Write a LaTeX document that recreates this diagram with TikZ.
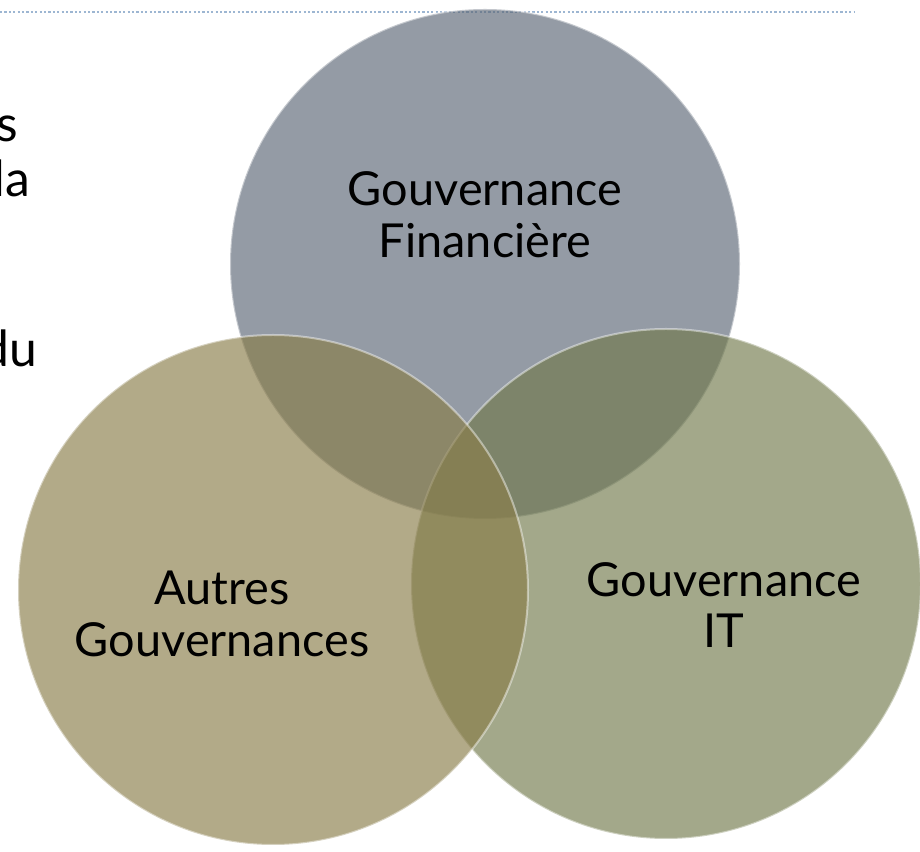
\documentclass[tikz,border=0pt]{standalone}
\usepackage{fontspec}
\setmainfont{Lato}
\definecolor{fincol}{HTML}{5A6574}
\definecolor{itcol}{HTML}{71794B}
\definecolor{othcol}{HTML}{897C48}
\definecolor{rulecol}{HTML}{9DB6D2}
\begin{document}
\begin{tikzpicture}[>=latex,
  venn/.style={circle,minimum size=510bp,inner sep=0pt,fill opacity=0.65,
    draw=white,draw opacity=0.45,line width=2bp},
  lbl/.style={align=center,inner sep=0pt,font=\fontsize{47}{52}\selectfont},
  frag/.style={anchor=base east,inner sep=0pt,font=\fontsize{50}{55}\selectfont},
]
%%
\clip (0bp,0bp) rectangle (920bp,852bp);
\coordinate (rl) at (0bp,840bp);
\coordinate (rr) at (855bp,840bp);
\draw [rulecol,line width=2.2bp,dash pattern=on 2.2bp off 2.2bp] (rl) -- (rr);
  \node (s) at (18bp,710bp) [frag] {s};
  \node (la) at (30bp,655bp) [frag] {la};
  \node (du) at (37bp,485bp) [frag] {du};
  \node (fin) at (485bp,588bp) [venn,fill=fincol] {};
  \node (it) at (666bp,268bp) [venn,fill=itcol] {};
  \node (oth) at (273bp,262bp) [venn,fill=othcol] {};
  \node (finl) at (485bp,637bp) [lbl] {Gouvernance\\Financière};
  \node (itl) at (724bp,247bp) [lbl] {Gouvernance\\IT};
  \node (othl) at (222bp,238bp) [lbl] {Autres\\Gouvernances};
%
\end{tikzpicture}
\end{document}
